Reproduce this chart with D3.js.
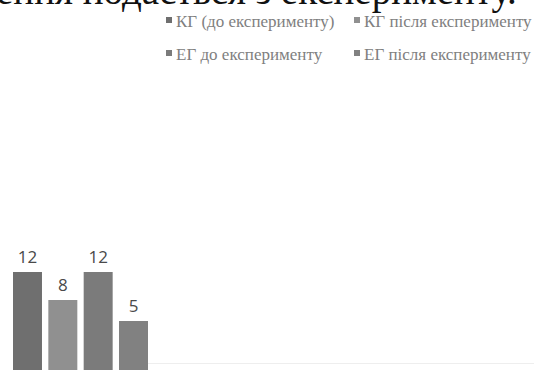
<!DOCTYPE html>
<html>
<head>
<meta charset="utf-8">
<script src="https://cdn.jsdelivr.net/npm/d3@7"></script>
<style>
  html, body { margin: 0; padding: 0; background: #fff; }
  svg { display: block; }
</style>
</head>
<body>
<svg id="chart" width="534" height="370"></svg>
<script>
// Series and their values
const categories = ["КГ (до експерименту)", "КГ після експерименту", "ЕГ до експерименту", "ЕГ після експерименту"];
const values = [12, 8, 12, 5];
const colors = ["#6f6f6f", "#909090", "#7b7b7b", "#818181"];
const headingText = "ення подається з експерименту.";

const W = 534, H = 370;
const svg = d3.select("#chart");

// Heading line of the surrounding text (partly cut at the top edge)
svg.append("text")
  .attr("x", -4).attr("y", 4)
  .attr("font-family", "'Liberation Serif', 'DejaVu Serif', serif")
  .attr("font-size", 39)
  .attr("fill", "#111")
  .text(headingText);

// Scales
const x = d3.scaleBand().domain(categories).range([13, 148]).paddingInner(0.18).paddingOuter(0);
const y = d3.scaleLinear().domain([0, 12]).range([356, 272]);

// Faint category axis line
svg.append("line")
  .attr("x1", x.range()[1]).attr("x2", W)
  .attr("y1", 363.5).attr("y2", 363.5)
  .attr("stroke", "#eeeeee").attr("stroke-width", 1);

// Bars run past the bottom edge of the figure
svg.append("g").selectAll("rect")
  .data(categories)
  .join("rect")
  .attr("x", d => x(d))
  .attr("y", (d, i) => y(values[i]))
  .attr("width", x.bandwidth())
  .attr("height", (d, i) => H - y(values[i]))
  .attr("fill", (d, i) => colors[i]);

// Value labels
svg.append("g").selectAll("text")
  .data(categories)
  .join("text")
  .attr("x", d => x(d) + x.bandwidth() / 2)
  .attr("y", (d, i) => y(values[i]) - 9)
  .attr("text-anchor", "middle")
  .attr("font-family", "'Open Sans', 'Liberation Sans', sans-serif")
  .attr("font-size", 17)
  .attr("fill", "#4a4a4a")
  .text((d, i) => values[i]);

// Legend: two rows, two columns
const legend = svg.append("g")
  .attr("font-family", "'Liberation Serif', 'DejaVu Serif', serif")
  .attr("font-size", 17)
  .attr("fill", "#808080");
const legendX = [166, 354], legendY = [27, 60];
categories.forEach((c, i) => {
  const col = i % 2, row = Math.floor(i / 2);
  const g = legend.append("g").attr("transform", `translate(${legendX[col]},${legendY[row]})`);
  g.append("rect").attr("x", 0).attr("y", -10).attr("width", 6).attr("height", 6).attr("fill", colors[i]);
  g.append("text").attr("x", 10).attr("y", 0).text(c);
});
</script>
</body>
</html>
